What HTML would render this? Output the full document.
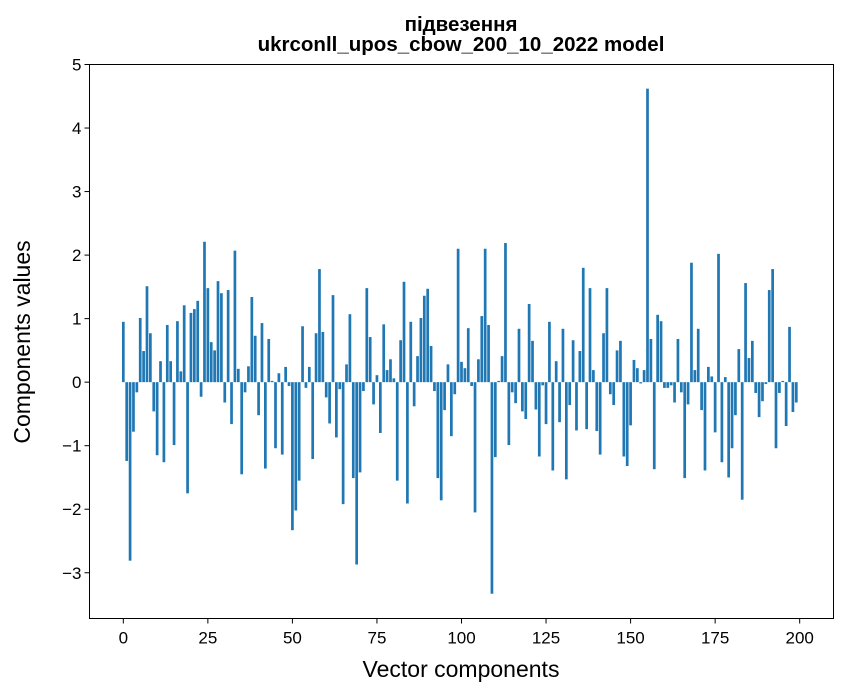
<!DOCTYPE html>
<html><head><meta charset="utf-8">
<style>
html,body{margin:0;padding:0;background:#fff;}
svg{display:block;font-family:"Liberation Sans","DejaVu Sans",sans-serif;}
</style></head>
<body>
<svg id="chart" width="847" height="696" viewBox="0 0 847 696">
<rect width="847" height="696" fill="#fff"/>
<text x="461" y="31" text-anchor="middle" font-size="20.5" font-weight="bold">підвезення</text>
<text x="461" y="51" text-anchor="middle" font-size="20.5" font-weight="bold">ukrconll_upos_cbow_200_10_2022 model</text>
<g id="bars"></g>
<g id="xticks"></g>
<g id="yticks"></g>
<rect x="89.5" y="64.5" width="744" height="554" fill="none" stroke="#000" stroke-width="1"/>
<text x="461" y="677" text-anchor="middle" font-size="23">Vector components</text>
<text transform="translate(30,342) rotate(-90)" text-anchor="middle" font-size="23">Components values</text>
</svg>
<script>
const values = [0.95,-1.24,-2.81,-0.78,-0.16,1.01,0.49,1.51,0.77,-0.46,
-1.15,0.33,-1.26,0.90,0.33,-0.99,0.96,0.17,1.21,-1.75,
1.09,1.15,1.28,-0.23,2.21,1.48,0.63,0.50,1.59,1.40,
-0.32,1.45,-0.66,2.07,0.21,-1.45,-0.16,0.25,1.34,0.73,
-0.52,0.93,-1.36,0.68,0.02,-1.04,0.14,-1.14,0.24,-0.06,
-2.33,-2.02,-1.55,0.88,-0.09,0.24,-1.21,0.77,1.78,0.79,
-0.24,-0.65,1.37,-0.87,-0.11,-1.92,0.28,1.07,-1.51,-2.87,
-1.42,-0.14,1.48,0.71,-0.35,0.11,-0.80,0.91,0.19,0.36,
0.06,-1.55,0.66,1.58,-1.91,0.95,-0.38,0.41,1.01,1.36,
1.47,0.57,-0.14,-1.51,-1.86,-0.44,0.28,-0.85,-0.19,2.10,
0.32,0.22,0.85,-0.06,-2.05,0.36,1.04,2.10,0.90,-3.33,
-1.18,0.02,0.41,2.19,-0.99,-0.16,-0.33,0.84,-0.46,-0.58,
1.23,0.65,-0.43,-1.17,-0.05,-0.66,0.95,-1.39,0.33,-0.63,
0.84,-1.53,-0.36,0.66,-0.76,0.49,1.80,-0.74,1.48,0.19,
-0.77,-1.14,0.77,1.48,-0.19,-0.36,0.50,0.65,-1.17,-1.32,
-0.68,0.35,0.22,-0.02,0.19,4.62,0.68,-1.37,1.06,0.96,
-0.09,-0.09,-0.05,-0.32,0.68,-0.16,-1.51,-0.35,1.88,0.19,
0.84,-0.44,-1.39,0.24,0.09,-0.79,2.02,-1.26,0.08,-1.50,
-1.04,-0.52,0.52,-1.85,1.56,0.38,0.65,-0.17,-0.55,-0.30,
-0.03,1.45,1.78,-1.04,-0.17,0.02,-0.69,0.87,-0.47,-0.32];
const xTickValues = [0,25,50,75,100,125,150,175,200];
const yTickValues = [-3,-2,-1,0,1,2,3,4,5];
const yTickLabels = ["\u22123","\u22122","\u22121","0","1","2","3","4","5"];

const NS="http://www.w3.org/2000/svg";
const xMin=-10, xMax=210, yMin=-3.72, yMax=5.0;
const L=89.5, R=833.5, T=64.5, B=618.5;
function xs(v){return L+(v-xMin)/(xMax-xMin)*(R-L);}
function ys(v){return B-(v-yMin)/(yMax-yMin)*(B-T);}
const bars=document.getElementById('bars');
values.forEach((v,i)=>{
  const r=document.createElementNS(NS,'rect');
  const x0=xs(i-0.4), x1=xs(i+0.4);
  const y0=ys(Math.max(v,0)), y1=ys(Math.min(v,0));
  r.setAttribute('x',x0);r.setAttribute('width',x1-x0);
  r.setAttribute('y',y0);r.setAttribute('height',Math.max(y1-y0,0.3));
  r.setAttribute('fill','#1f77b4');
  
  
  bars.appendChild(r);
});
const xg=document.getElementById('xticks');
xTickValues.forEach(t=>{
  const x=xs(t);
  const l=document.createElementNS(NS,'line');
  l.setAttribute('x1',x);l.setAttribute('x2',x);l.setAttribute('y1',B);l.setAttribute('y2',B+5);
  l.setAttribute('stroke','#000');
  
  
  xg.appendChild(l);
  const tx=document.createElementNS(NS,'text');
  tx.setAttribute('x',x);tx.setAttribute('y',B+25);tx.setAttribute('text-anchor','middle');tx.setAttribute('font-size','17');
  tx.textContent=t;
  
  
  xg.appendChild(tx);
});
const yg=document.getElementById('yticks');
yTickValues.forEach((t,i)=>{
  const y=ys(t);
  const l=document.createElementNS(NS,'line');
  l.setAttribute('x1',L-5);l.setAttribute('x2',L);l.setAttribute('y1',y);l.setAttribute('y2',y);
  l.setAttribute('stroke','#000');
  
  
  yg.appendChild(l);
  const tx=document.createElementNS(NS,'text');
  tx.setAttribute('x',L-8);tx.setAttribute('y',y+6);tx.setAttribute('text-anchor','end');tx.setAttribute('font-size','17');
  tx.textContent=yTickLabels[i];
  
  
  yg.appendChild(tx);
});
</script>
</body></html>
